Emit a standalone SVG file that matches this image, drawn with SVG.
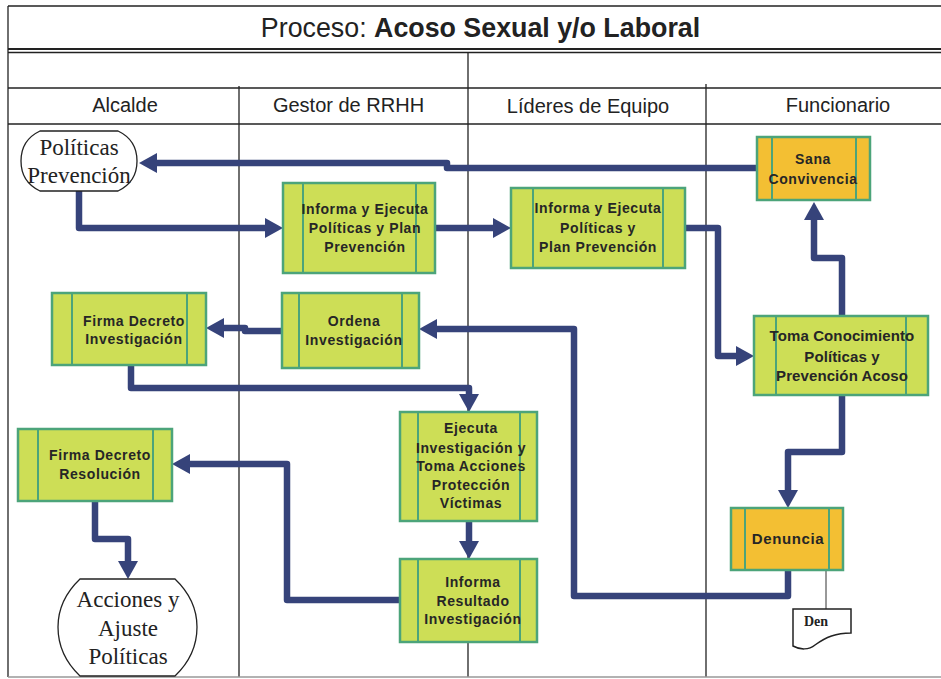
<svg xmlns="http://www.w3.org/2000/svg" width="941" height="679" viewBox="0 0 941 679">
<defs>
<style>
.frame{fill:none;stroke:#222;stroke-width:1.3}
.title{font-family:"Liberation Sans",Arial,sans-serif;font-size:26.8px;fill:#222}
.lane{font-family:"Liberation Sans",Arial,sans-serif;font-size:20px;fill:#222;text-anchor:middle}
.box{fill:#CDDE56;stroke:#4CA47A;stroke-width:2.5}
.obox{fill:#F3BF33;stroke:#4CA47A;stroke-width:2.5}
.bar{stroke:#4CA47A;stroke-width:2;fill:none}
.lbl{font-family:"Liberation Sans",Arial,sans-serif;font-weight:bold;font-size:14px;letter-spacing:0.6px;fill:#262626;text-anchor:middle}
.term{fill:#fff;stroke:#222;stroke-width:1.3}
.serif{font-family:"Liberation Serif","Times New Roman",serif;font-size:23px;fill:#222;text-anchor:middle}
.conn{fill:none;stroke:#36437A;stroke-width:6.5;stroke-linejoin:round;marker-end:url(#ah)}
</style>
<marker id="ah" viewBox="0 0 18 20" refX="0" refY="10" markerWidth="18" markerHeight="20" markerUnits="userSpaceOnUse" orient="auto">
<path d="M0,0 L18,10 L0,20 Z" fill="#36437A"/>
</marker>
</defs>
<rect width="941" height="679" fill="#fff"/>
<g id="frame">
<line class="frame" x1="8" y1="6" x2="941" y2="6"/>
<line class="frame" x1="8" y1="6" x2="8" y2="677"/>
<line class="frame" x1="8" y1="49" x2="941" y2="49" style="stroke-width:2"/>
<line class="frame" x1="8" y1="52.5" x2="941" y2="52.5"/>
<line class="frame" x1="8" y1="88" x2="941" y2="88"/>
<line class="frame" x1="8" y1="124" x2="941" y2="124"/>
<line class="frame" x1="468" y1="52" x2="468" y2="677"/>
<line class="frame" x1="239" y1="86" x2="239" y2="677"/>
<line class="frame" x1="706" y1="84" x2="706" y2="677"/>
<line class="frame" x1="8" y1="677" x2="941" y2="677" style="stroke:#999"/>
<text class="title" x="480.5" y="37" text-anchor="middle">Proceso: <tspan font-weight="bold">Acoso Sexual y/o Laboral</tspan></text>
<text class="lane" x="125" y="112">Alcalde</text>
<text class="lane" x="348.5" y="112">Gestor de RRHH</text>
<text class="lane" x="588" y="113">Líderes de Equipo</text>
<text class="lane" x="838" y="112">Funcionario</text>
</g>
<g id="connectors">
<path class="conn" d="M757,168 H447 V163 H157"/>
<path class="conn" d="M79,191 V228 H265"/>
<path class="conn" d="M435,228 H493"/>
<path class="conn" d="M685,228 H718 V356 H736"/>
<path class="conn" d="M842,316 V258 H814 V220"/>
<path class="conn" d="M842,395 V452 H788 V490"/>
<path class="conn" d="M788,570 V596 H574 V329 H437"/>
<path class="conn" d="M282,331 H245 V328 H224"/>
<path class="conn" d="M131,365 V388 H469 V394"/>
<path class="conn" d="M469,521 V541"/>
<path class="conn" d="M400,600 H287 V464 H190"/>
<path class="conn" d="M95,501 V539 H128 V561"/>
<line x1="826" y1="567" x2="826" y2="609" stroke="#333" stroke-width="1"/>
</g>
<g id="n1">
<path class="term" d="M40,131 H118 Q137,140 137,161 Q137,182 118,191 H40 Q21,182 21,161 Q21,140 40,131 Z"/>
<text class="serif" x="79" y="155">Políticas</text>
<text class="serif" x="79" y="183">Prevención</text>
</g>
<g id="n2">
<rect class="box" x="283" y="183" width="152" height="90"/>
<line class="bar" x1="303" y1="183" x2="303" y2="273"/><line class="bar" x1="416" y1="183" x2="416" y2="273"/>
<text class="lbl" x="365" y="214">Informa y Ejecuta</text>
<text class="lbl" x="365" y="233">Políticas y Plan</text>
<text class="lbl" x="365" y="252">Prevención</text>
</g>
<g id="n3">
<rect class="box" x="511" y="188" width="174" height="80"/>
<line class="bar" x1="533" y1="188" x2="533" y2="268"/><line class="bar" x1="663" y1="188" x2="663" y2="268"/>
<text class="lbl" x="598" y="213">Informa y Ejecuta</text>
<text class="lbl" x="598" y="233">Políticas y</text>
<text class="lbl" x="598" y="252">Plan Prevención</text>
</g>
<g id="n4">
<rect class="obox" x="757" y="137" width="113" height="63"/>
<line class="bar" x1="772" y1="137" x2="772" y2="200"/><line class="bar" x1="856" y1="137" x2="856" y2="200"/>
<text class="lbl" x="813" y="164">Sana</text>
<text class="lbl" x="813" y="184">Convivencia</text>
</g>
<g id="n5">
<rect class="box" x="52" y="293" width="154" height="72"/>
<line class="bar" x1="72" y1="293" x2="72" y2="365"/><line class="bar" x1="187" y1="293" x2="187" y2="365"/>
<text class="lbl" x="134" y="326">Firma Decreto</text>
<text class="lbl" x="134" y="344">Investigación</text>
</g>
<g id="n6">
<rect class="box" x="282" y="293" width="137" height="75"/>
<line class="bar" x1="299" y1="293" x2="299" y2="368"/><line class="bar" x1="402" y1="293" x2="402" y2="368"/>
<text class="lbl" x="354" y="326">Ordena</text>
<text class="lbl" x="354" y="345">Investigación</text>
</g>
<g id="n7">
<rect class="box" x="18" y="429" width="154" height="72"/>
<line class="bar" x1="38" y1="429" x2="38" y2="501"/><line class="bar" x1="153" y1="429" x2="153" y2="501"/>
<text class="lbl" x="100" y="460">Firma Decreto</text>
<text class="lbl" x="100" y="479">Resolución</text>
</g>
<g id="n8">
<path class="term" d="M80,579 H175 Q197,600 197,627 Q197,655 175,676 H80 Q58,655 58,627 Q58,600 80,579 Z"/>
<text class="serif" x="128" y="607">Acciones y</text>
<text class="serif" x="128" y="636">Ajuste</text>
<text class="serif" x="128" y="664">Políticas</text>
</g>
<g id="n9">
<rect class="box" x="400" y="412" width="137" height="109"/>
<line class="bar" x1="418" y1="412" x2="418" y2="521"/><line class="bar" x1="520" y1="412" x2="520" y2="521"/>
<text class="lbl" x="471" y="433">Ejecuta</text>
<text class="lbl" x="471" y="453">Investigación y</text>
<text class="lbl" x="471" y="471">Toma Acciones</text>
<text class="lbl" x="471" y="490">Protección</text>
<text class="lbl" x="471" y="508">Víctimas</text>
</g>
<g id="n10">
<rect class="box" x="400" y="559" width="137" height="83"/>
<line class="bar" x1="418" y1="559" x2="418" y2="642"/><line class="bar" x1="520" y1="559" x2="520" y2="642"/>
<text class="lbl" x="473" y="587">Informa</text>
<text class="lbl" x="473" y="606">Resultado</text>
<text class="lbl" x="473" y="624">Investigación</text>
</g>
<g id="n11">
<rect class="box" x="754" y="316" width="174" height="79"/>
<line class="bar" x1="776" y1="316" x2="776" y2="395"/><line class="bar" x1="906" y1="316" x2="906" y2="395"/>
<text class="lbl" x="842" y="341" style="font-size:15px;letter-spacing:0.1px">Toma Conocimiento</text>
<text class="lbl" x="842" y="362" style="font-size:15px;letter-spacing:0.1px">Políticas y</text>
<text class="lbl" x="842" y="381" style="font-size:15px;letter-spacing:0.1px">Prevención Acoso</text>
</g>
<g id="n12">
<rect class="obox" x="731" y="508" width="112" height="62"/>
<line class="bar" x1="745" y1="508" x2="745" y2="570"/><line class="bar" x1="829" y1="508" x2="829" y2="570"/>
<text class="lbl" x="788" y="544" style="font-size:15px">Denuncia</text>
</g>
<g id="n13">
<path d="M793,609 H851 V633 C836,633 826,637 815,645 C809,650 800,650 793,646 Z" fill="#fff" stroke="#222" stroke-width="1.5"/>
<text x="804" y="626" font-family="'Liberation Serif','Times New Roman',serif" font-weight="bold" font-size="14" fill="#222">Den</text>
</g>
</svg>
